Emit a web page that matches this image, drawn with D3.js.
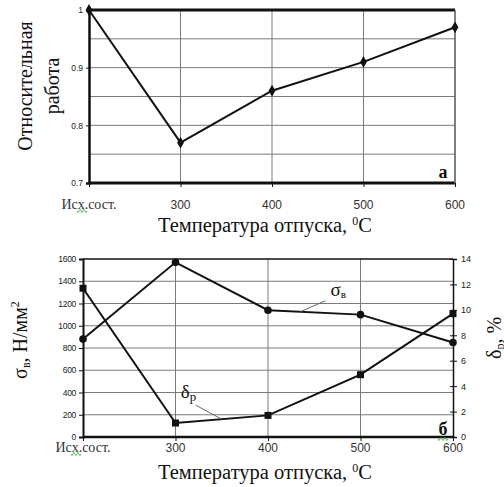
<!DOCTYPE html>
<html>
<head>
<meta charset="utf-8">
<script src="https://cdn.jsdelivr.net/npm/d3@7"></script>
<style>
body { margin: 0; background: #fff; }
</style>
</head>
<body>
<script>
// data
const categories = ['Исх.сост.', '300', '400', '500', '600'];
const relWork = [1.0, 0.77, 0.86, 0.91, 0.97];
const sigmaB = [880, 1570, 1140, 1100, 850];
const deltaR = [11.7, 1.1, 1.7, 4.9, 9.7];

const topTicks = [0.7, 0.8, 0.9, 1];
const topGrid = [0.75, 0.8, 0.85, 0.9, 0.95];
const leftTicks = [0, 200, 400, 600, 800, 1000, 1200, 1400, 1600];
const rightTicks = [0, 2, 4, 6, 8, 10, 12, 14];

const SERIF = '"Liberation Serif", "Times New Roman", serif';
const SANS = '"Liberation Sans", Arial, sans-serif';

// small helper: font through inline style (attributes get ignored here)
const font = (sel, fam, size, weight) => sel
    .style('font-family', fam)
    .style('font-size', size + 'px')
    .style('font-weight', weight || 'normal')
    .style('fill', '#111');

const svg = d3.select('body').append('svg')
    .attr('width', 504)
    .attr('height', 487);

// ---------- chart a ----------
const x1 = d3.scalePoint().domain(categories).range([89, 455]);
const y1 = d3.scaleLinear().domain([0.7, 1]).range([183, 10]);
const g1 = svg.append('g');

g1.selectAll('.hg').data(topGrid).enter().append('line')
    .attr('x1', 89).attr('x2', 455)
    .attr('y1', d => y1(d)).attr('y2', d => y1(d))
    .attr('stroke', '#7a7a7a').attr('stroke-width', 1);
g1.selectAll('.vg').data(categories.slice(1, 4)).enter().append('line')
    .attr('x1', d => x1(d)).attr('x2', d => x1(d))
    .attr('y1', 10).attr('y2', 183)
    .attr('stroke', '#7a7a7a').attr('stroke-width', 1);

// frame
g1.append('line').attr('x1', 89).attr('x2', 455).attr('y1', 10).attr('y2', 10)
    .attr('stroke', '#111').attr('stroke-width', 3);
g1.append('line').attr('x1', 89).attr('x2', 455).attr('y1', 183).attr('y2', 183)
    .attr('stroke', '#111').attr('stroke-width', 3);
g1.append('line').attr('x1', 455).attr('x2', 455).attr('y1', 10).attr('y2', 184)
    .attr('stroke', '#555').attr('stroke-width', 1.5);

const ax1 = g1.append('g').attr('transform', 'translate(89,0)')
    .call(d3.axisLeft(y1).tickValues(topTicks).tickSize(3).tickPadding(3)
        .tickFormat(d => d === 1 ? '1' : d3.format('.1f')(d)));
ax1.select('.domain').attr('stroke', '#111').attr('stroke-width', 2.5);
ax1.selectAll('.tick line').attr('stroke', '#111');
font(ax1.selectAll('.tick text'), SANS, 8.5).style('fill', '#222');

const bx1 = g1.append('g').attr('transform', 'translate(0,183)')
    .call(d3.axisBottom(x1).tickSize(4).tickFormat(''));
bx1.select('.domain').remove();
bx1.selectAll('.tick line').attr('stroke', '#111');

const xl1 = g1.selectAll('.xl').data(categories).enter().append('text')
    .attr('x', d => x1(d)).attr('y', 209)
    .attr('text-anchor', 'middle')
    .text(d => d);
xl1.style('font-family', (d, i) => i === 0 ? SERIF : SANS)
    .style('font-size', (d, i) => i === 0 ? '14px' : '12px')
    .style('fill', '#333');

const line1 = d3.line().x((d, i) => x1(categories[i])).y(d => y1(d));
g1.append('path').datum(relWork)
    .attr('d', line1).attr('fill', 'none')
    .attr('stroke', '#111').attr('stroke-width', 2);
g1.selectAll('.pt').data(relWork).enter().append('path')
    .attr('transform', (d, i) => `translate(${x1(categories[i])},${y1(d)})`)
    .attr('d', d3.symbol(d3.symbolDiamond, 40))
    .attr('fill', '#111');

font(g1.append('text').attr('x', 443).attr('y', 178)
    .attr('text-anchor', 'middle').text('а'), SERIF, 18, 'bold');

const t1 = font(g1.append('text').attr('x', 265).attr('y', 232)
    .attr('text-anchor', 'middle')
    .text('Температура отпуска, '), SERIF, 20.5);
t1.append('tspan').style('font-size', '12px').attr('dy', -7).text('0');
t1.append('tspan').attr('dy', 7).text('C');

font(g1.append('text').attr('transform', 'translate(32,86) rotate(-90)')
    .attr('text-anchor', 'middle').text('Относительная'), SERIF, 20);
font(g1.append('text').attr('transform', 'translate(59,86) rotate(-90)')
    .attr('text-anchor', 'middle').text('работа'), SERIF, 20);

// ---------- chart б ----------
const x2 = d3.scalePoint().domain(categories).range([83, 453]);
const yL = d3.scaleLinear().domain([0, 1600]).range([437, 259]);
const yR = d3.scaleLinear().domain([0, 14]).range([437, 259]);
const g2 = svg.append('g');

g2.selectAll('.hg').data(leftTicks.slice(1, -1)).enter().append('line')
    .attr('x1', 83).attr('x2', 453)
    .attr('y1', d => yL(d)).attr('y2', d => yL(d))
    .attr('stroke', '#7a7a7a').attr('stroke-width', 1);
g2.selectAll('.vg').data(categories.slice(1, 4)).enter().append('line')
    .attr('x1', d => x2(d)).attr('x2', d => x2(d))
    .attr('y1', 259).attr('y2', 437)
    .attr('stroke', '#7a7a7a').attr('stroke-width', 1);

g2.append('line').attr('x1', 83).attr('x2', 453).attr('y1', 259).attr('y2', 259)
    .attr('stroke', '#111').attr('stroke-width', 1.5);
g2.append('line').attr('x1', 83).attr('x2', 453).attr('y1', 437).attr('y2', 437)
    .attr('stroke', '#111').attr('stroke-width', 2.5);

const axL = g2.append('g').attr('transform', 'translate(83,0)')
    .call(d3.axisLeft(yL).tickValues(leftTicks).tickSize(4).tickPadding(3)
        .tickFormat(d3.format('d')));
axL.select('.domain').attr('stroke', '#111').attr('stroke-width', 2);
axL.selectAll('.tick line').attr('stroke', '#111');
font(axL.selectAll('.tick text'), SANS, 8.5).style('fill', '#222')
    .style('letter-spacing', '-0.3px');

const axR = g2.append('g').attr('transform', 'translate(453,0)')
    .call(d3.axisRight(yR).tickValues(rightTicks).tickSize(4).tickPadding(4));
axR.select('.domain').attr('stroke', '#111').attr('stroke-width', 1.5);
axR.selectAll('.tick line').attr('stroke', '#111').attr('x1', -3);
font(axR.selectAll('.tick text'), SANS, 9).style('fill', '#222');

const bx2 = g2.append('g').attr('transform', 'translate(0,437)')
    .call(d3.axisBottom(x2).tickSize(4).tickFormat(''));
bx2.select('.domain').remove();
bx2.selectAll('.tick line').attr('stroke', '#111');

const xl2 = g2.selectAll('.xl').data(categories).enter().append('text')
    .attr('x', d => x2(d)).attr('y', 452)
    .attr('text-anchor', 'middle')
    .text(d => d);
xl2.style('font-family', (d, i) => i === 0 ? SERIF : SANS)
    .style('font-size', (d, i) => i === 0 ? '14px' : '12px')
    .style('fill', '#333');

const lineS = d3.line().x((d, i) => x2(categories[i])).y(d => yL(d));
const lineD = d3.line().x((d, i) => x2(categories[i])).y(d => yR(d));
g2.append('path').datum(sigmaB).attr('d', lineS)
    .attr('fill', 'none').attr('stroke', '#111').attr('stroke-width', 2);
g2.append('path').datum(deltaR).attr('d', lineD)
    .attr('fill', 'none').attr('stroke', '#111').attr('stroke-width', 2);
g2.selectAll('.cs').data(sigmaB).enter().append('circle')
    .attr('cx', (d, i) => x2(categories[i])).attr('cy', d => yL(d))
    .attr('r', 3.8).attr('fill', '#111');
g2.selectAll('.sq').data(deltaR).enter().append('rect')
    .attr('x', (d, i) => x2(categories[i]) - 3.5).attr('y', d => yR(d) - 3.5)
    .attr('width', 7).attr('height', 7).attr('fill', '#111');

// series labels with leader lines
const sx = x2('400') + 0.35 * (x2('500') - x2('400'));
const sy = yL(sigmaB[2] + 0.35 * (sigmaB[3] - sigmaB[2]));
g2.append('line').attr('x1', sx).attr('y1', sy).attr('x2', sx + 25).attr('y2', sy - 11)
    .attr('stroke', '#666').attr('stroke-width', 1);
const ls = font(g2.append('text').attr('x', sx + 30).attr('y', sy - 16).text('σ'), SERIF, 19);
ls.append('tspan').style('font-size', '11px').attr('dy', 2).text('в');

const dx = x2('300') + 0.5 * (x2('400') - x2('300'));
const dy = yR(deltaR[1] + 0.5 * (deltaR[2] - deltaR[1]));
g2.append('line').attr('x1', dx).attr('y1', dy).attr('x2', dx - 26).attr('y2', dy - 14)
    .attr('stroke', '#666').attr('stroke-width', 1);
const ld = font(g2.append('text').attr('x', dx - 41).attr('y', dy - 21).text('δ'), SERIF, 19);
ld.append('tspan').style('font-size', '13px').attr('dy', 3).text('р');

font(g2.append('text').attr('x', 443).attr('y', 435)
    .attr('text-anchor', 'middle').text('б'), SERIF, 18, 'bold');

const t2 = font(g2.append('text').attr('x', 265).attr('y', 479)
    .attr('text-anchor', 'middle')
    .text('Температура отпуска, '), SERIF, 20.5);
t2.append('tspan').style('font-size', '12px').attr('dy', -7).text('0');
t2.append('tspan').attr('dy', 7).text('C');

const tl = font(g2.append('text').attr('transform', 'translate(27,340) rotate(-90)')
    .attr('text-anchor', 'middle').text('σ'), SERIF, 20);
tl.append('tspan').style('font-size', '12px').attr('dy', 3).text('в');
tl.append('tspan').attr('dy', -3).text(', Н/мм');
tl.append('tspan').style('font-size', '12px').attr('dy', -8).text('2');

const tr = font(g2.append('text').attr('transform', 'translate(501,338) rotate(-90)')
    .attr('text-anchor', 'middle').text('δ'), SERIF, 20);
tr.append('tspan').style('font-size', '12px').attr('dy', 3).text('р');
tr.append('tspan').attr('dy', -3).text(', %');

// spell-check squiggles as in the source document
const squiggle = (x, y, w, color) => {
  let d = `M${x},${y}`;
  for (let i = 0; i < w; i += 2) d += ` l1,${i % 4 === 0 ? 1.5 : -1.5} l1,${i % 4 === 0 ? -1.5 : 1.5}`;
  svg.append('path').attr('d', d).attr('fill', 'none')
      .attr('stroke', color).attr('stroke-width', 0.8);
};
squiggle(77, 211, 10, '#3a3');
squiggle(71, 454, 10, '#3a3');
squiggle(438, 439, 10, '#3a3');
</script>
</body>
</html>
